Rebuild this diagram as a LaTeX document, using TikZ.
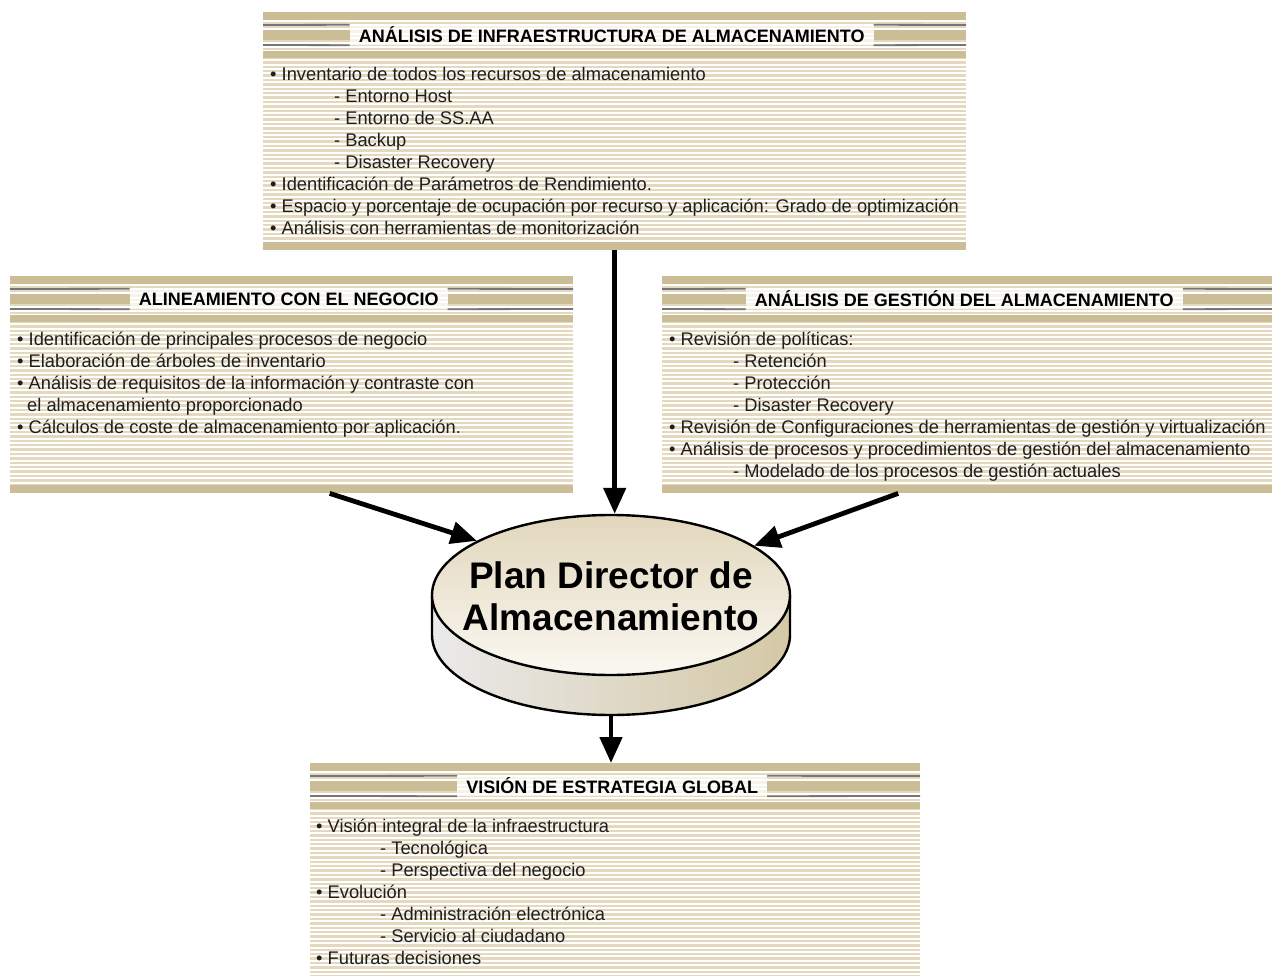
\documentclass[tikz,border=0pt]{standalone}
\usepackage{fontspec}
\setmainfont{Liberation Sans}
\usetikzlibrary{arrows.meta,calc,shapes.geometric}

\definecolor{stripecol}{RGB}{228,217,190}
\definecolor{tanband}{RGB}{203,189,150}
\definecolor{rulecol}{RGB}{118,118,118}
\definecolor{disktop}{RGB}{226,215,188}
\definecolor{diskside}{RGB}{212,200,165}
\definecolor{bodyink}{RGB}{30,30,30}

\tikzset{
  stripe line/.style={draw=stripecol, line width=2.5pt},
  rule line/.style={draw=rulecol, line width=1.8pt},
  panel/.style={draw=none, inner sep=0pt, anchor=north west},
  paneltitle/.style={inner xsep=9pt, inner ysep=0pt, minimum height=20pt,
    font=\bfseries\fontsize{18}{22}\selectfont, fill=white, fill opacity=0.7, text opacity=1},
  bodytext/.style={anchor=base west, inner sep=0pt,
    font=\fontsize{18.3}{22}\selectfont, text=bodyink},
  flow/.style={line width=4.8pt, -{Triangle[length=26pt,width=22pt]}},
  disklabel/.style={align=center, inner sep=0pt, font=\bfseries\fontsize{37}{42}\selectfont},
}

% striped panel: name, x0, y0, x1, y1, title
\newcommand\stripepanel[6]{%
  \pgfmathsetmacro\panW{#4-#2}%
  \pgfmathsetmacro\panH{#5-#3}%
  \node[panel, minimum width=\panW pt, minimum height=\panH pt] (#1) at (#2,#3) {};
  \begin{scope}
    \clip (#2,#3) rectangle (#4,#5);
    \pgfmathsetmacro\ysA{#3+2}%
    \pgfmathsetmacro\ysB{#3+6.4}%
    \foreach \yy in {\ysA,\ysB,...,#5} \draw[stripe line] (#2,\yy) -- (#4,\yy);
    \fill[tanband] (#2,#3) rectangle (#4,#3+8);
    \fill[tanband] (#2,#3+39) rectangle (#4,#3+46);
    \fill[tanband] (#2,#5-8) rectangle (#4,#5);
  \end{scope}
  \node[paneltitle] (#1-title) at ($(#1.north)+(-3,23)$) {#6};
  \fill[tanband] (#2,#3+18) rectangle ($(#1-title.west)+(0,5)$);
  \fill[tanband] ($(#1-title.east)+(0,-5)$) rectangle (#4,#3+28);
  \draw[rule line] (#2,#3+13) -- (#1-title.north west);
  \draw[rule line] (#2,#3+33) -- (#1-title.south west);
  \draw[rule line] (#1-title.north east) -- (#4,#3+13);
  \draw[rule line] (#1-title.south east) -- (#4,#3+33);
}

% text lines of a panel: name, x, first baseline, lines
\newcommand\panellines[4]{%
  \foreach \ln [count=\i] in {#4}
    \node[bodytext] (#1-l\i) at (#2,{#3+(\i-1)*22}) {\ln};
}
\newcommand\dashitem{\hspace*{64pt}- }

\begin{document}
\begin{tikzpicture}[x=1pt,y=-1pt]
\useasboundingbox (0,0) rectangle (1272,976);
\clip (0,0) rectangle (1272,976);
\fill[white] (0,0) rectangle (1272,976);

% four striped panels
\stripepanel{infra}{263}{12}{966}{250}{ANÁLISIS DE INFRAESTRUCTURA DE ALMACENAMIENTO}
\panellines{infra}{270}{81}{%
  {• Inventario de todos los recursos de almacenamiento},
  {\dashitem Entorno Host},
  {\dashitem Entorno de SS.AA},
  {\dashitem Backup},
  {\dashitem Disaster Recovery},
  {• Identificación de Parámetros de Rendimiento.},
  {• Espacio y porcentaje de ocupación por recurso y aplicación: Grado de optimización},
  {• Análisis con herramientas de monitorización}}

\stripepanel{align}{10}{276}{573}{493}{ALINEAMIENTO CON EL NEGOCIO}
\panellines{align}{17}{345}{%
  {• Identificación de principales procesos de negocio},
  {• Elaboración de árboles de inventario},
  {• Análisis de requisitos de la información y contraste con},
  {\hspace*{10pt}el almacenamiento proporcionado},
  {• Cálculos de coste de almacenamiento por aplicación.}}

\stripepanel{mgmt}{662}{276}{1272}{493}{ANÁLISIS DE GESTIÓN DEL ALMACENAMIENTO}
\panellines{mgmt}{669}{345}{%
  {• Revisión de políticas:},
  {\dashitem Retención},
  {\dashitem Protección},
  {\dashitem Disaster Recovery},
  {• Revisión de Configuraciones de herramientas de gestión y virtualización},
  {• Análisis de procesos y procedimientos de gestión del almacenamiento},
  {\dashitem Modelado de los procesos de gestión actuales}}

\stripepanel{vision}{310}{763}{920}{992}{VISIÓN DE ESTRATEGIA GLOBAL}
\panellines{vision}{316}{832}{%
  {• Visión integral de la infraestructura},
  {\dashitem Tecnológica},
  {\dashitem Perspectiva del negocio},
  {• Evolución},
  {\dashitem Administración electrónica},
  {\dashitem Servicio al ciudadano},
  {• Futuras decisiones}}

% central disk: side wall, then top face, then label
\fill[left color={rgb,255:red,234;green,234;blue,234}, middle color=white, right color=diskside]
  (432,595) -- (432,635) arc[start angle=180, end angle=0, x radius=179, y radius=80]
  -- (790,595) -- cycle;
\draw[line width=2.4pt, line join=round]
  (432,595) -- (432,635) arc[start angle=180, end angle=0, x radius=179, y radius=80]
  -- (790,595);
\node[ellipse, draw, line width=2.4pt, minimum width=358pt, minimum height=160pt,
  inner sep=0pt, top color=disktop, bottom color={rgb,255:red,250;green,248;blue,242}]
  (plan) at (611,595) {};
\node[disklabel] (plan-label) at (611,596) {Plan Director de\\Almacenamiento};
\coordinate (plan-base) at (611,715);

% flows into and out of the plan
\draw[flow] (infra.south) -- (infra.south |- plan.north);
\draw[flow] ($(align.south)+(38,0)$) -- (plan.158);
\draw[flow] ($(mgmt.south)+(-69,0)$) -- (plan.19.5);
\draw[flow] (plan-base) -- (plan-base |- vision.north);
\end{tikzpicture}
\end{document}
